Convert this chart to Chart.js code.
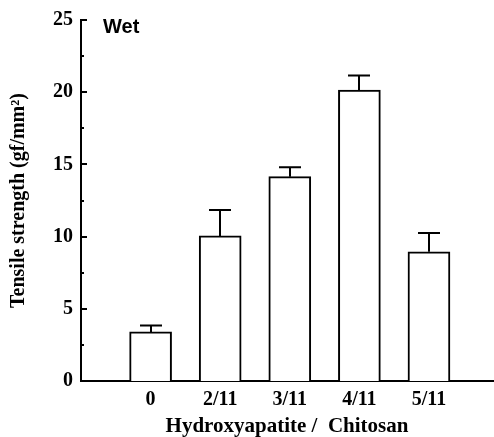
<!DOCTYPE html>
<html>
<head>
<meta charset="utf-8">
<script src="https://cdn.jsdelivr.net/npm/chart.js@4.4.1/dist/chart.umd.min.js"></script>
<style>
  html, body { margin: 0; padding: 0; background: #fff; }
  #wrap { width: 494px; height: 437px; position: relative; }
</style>
</head>
<body>
<div id="wrap"><canvas id="chart"></canvas></div>
<script>
// --- DATA ---
// HA/chitosan ratio groups, wet tensile strength (gf/mm^2) with +SD bars
const categories = ['0', '2/11', '3/11', '4/11', '5/11'];
const strength = [3.4, 10.05, 14.15, 20.15, 8.95];
const strengthSD = [0.45, 1.8, 0.65, 1.0, 1.3];
const yTicks = [0, 5, 10, 15, 20, 25];
const yMinorTicks = [2.5, 7.5, 12.5, 17.5, 22.5];

const serif = '"Liberation Serif", "Times New Roman", serif';

// bars sit at x = 1..5 on a linear axis so the left gap matches the original
const barData = strength.map((v, i) => ({ x: i + 1, y: v }));

// inward ticks on the y axis + upper error bars + the "Wet" label
const extras = {
    id: 'extras',
    afterDatasetsDraw(chart) {
        const { ctx, scales: { x, y } } = chart;
        ctx.save();
        ctx.strokeStyle = '#000';
        ctx.lineWidth = 2;
        const ax = y.right;
        ctx.beginPath();
        yTicks.forEach(v => {
            const py = Math.round(y.getPixelForValue(v));
            ctx.moveTo(ax, py);
            ctx.lineTo(ax + 6, py);
        });
        yMinorTicks.forEach(v => {
            const py = Math.round(y.getPixelForValue(v));
            ctx.moveTo(ax, py);
            ctx.lineTo(ax + 3, py);
        });
        ctx.stroke();

        ctx.beginPath();
        strength.forEach((v, i) => {
            const px = Math.round(x.getPixelForValue(i + 1));
            const top = y.getPixelForValue(v + strengthSD[i]);
            ctx.moveTo(px, y.getPixelForValue(v));
            ctx.lineTo(px, top);
            ctx.moveTo(px - 11, top);
            ctx.lineTo(px + 11, top);
        });
        ctx.stroke();

        ctx.fillStyle = '#000';
        ctx.font = 'bold 20px "Liberation Sans", Arial, sans-serif';
        ctx.textBaseline = 'middle';
        ctx.fillText('Wet', 103, 27);
        ctx.restore();
    }
};

new Chart(document.getElementById('chart'), {
    type: 'bar',
    data: {
        datasets: [{
            data: barData,
            backgroundColor: '#fff',
            borderColor: '#000',
            borderWidth: 2,
            borderSkipped: 'bottom',
            barThickness: 42
        }]
    },
    options: {
        responsive: true,
        maintainAspectRatio: false,
        animation: false,
        // negative bottom padding lets the x title sit a bit lower, like the original
        layout: { padding: { top: 19, right: 1, left: 0, bottom: -2 } },
        plugins: { legend: { display: false }, tooltip: { enabled: false } },
        scales: {
            x: {
                type: 'linear',
                offset: false,
                min: 0,
                max: 5.92,
                afterBuildTicks: axis => { axis.ticks = categories.map((c, i) => ({ value: i + 1 })); },
                afterFit: axis => { axis.height = 58; },
                ticks: {
                    callback: v => categories[v - 1] ?? '',
                    color: '#000',
                    padding: 7,
                    font: { family: serif, size: 20, weight: 'bold' },
                    maxRotation: 0
                },
                grid: { display: false, drawTicks: false },
                border: { display: true, color: '#000', width: 2 },
                title: {
                    display: true,
                    text: 'Hydroxyapatite /  Chitosan',
                    color: '#000',
                    padding: { top: 5, bottom: 0 },
                    font: { family: serif, size: 21, weight: 'bold' }
                }
            },
            y: {
                min: 0,
                max: 25,
                afterBuildTicks: axis => { axis.ticks = yTicks.map(v => ({ value: v })); },
                afterFit: axis => { axis.width = 81; },
                ticks: {
                    color: '#000',
                    padding: 8,
                    font: { family: serif, size: 20, weight: 'bold' }
                },
                grid: { display: false, drawTicks: false },
                border: { display: true, color: '#000', width: 2 },
                title: {
                    display: true,
                    text: 'Tensile strength (gf/mm²)',
                    color: '#000',
                    padding: { top: 7, bottom: 0 },
                    font: { family: serif, size: 20, weight: 'bold' }
                }
            }
        }
    },
    plugins: [extras]
});
</script>
</body>
</html>
